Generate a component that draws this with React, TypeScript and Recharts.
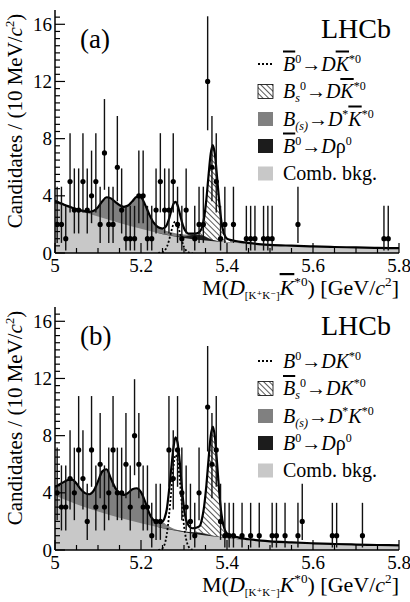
import { ComposedChart, Area, Line, Scatter, ErrorBar, XAxis, YAxis } from "recharts"

const serif = '"Liberation Serif", "Times New Roman", "DejaVu Serif", serif'

// histogram: 80 bins of 10 MeV from 5.0 to 5.8 GeV
const massMin = 5.0
const binWidth = 0.01

const countsA = [
  2, 2, 1, 5, 3, 3, 5, 3, 4, 5,
  2, 7, 2, 2, 6, 3, 1, 1, 1, 4,
  4, 1, 1, 3, 5, 3, 3, 5, 2, 1,
  3, 0, 1, 2, 2, 12, 6, 5, 1, 2,
  0, 2, 0, 0, 1, 1, 1, 0, 1, 1,
  1, 0, 0, 0, 0, 0, 2, 0, 0, 0,
  0, 0, 0, 0, 0, 0, 0, 0, 0, 0,
  0, 0, 0, 0, 0, 0, 1, 1, 0, 0,
]

const countsB = [
  4, 3, 3, 5, 4, 7, 5, 2, 7, 3,
  6, 3, 4, 7, 4, 4, 6, 3, 8, 6,
  3, 3, 1, 2, 2, 0, 7, 5, 7, 4,
  3, 2, 1, 4, 0, 10, 6, 7, 2, 1,
  1, 1, 0, 1, 0, 1, 0, 1, 0, 0,
  1, 1, 0, 1, 0, 0, 1, 2, 0, 0,
  0, 0, 0, 0, 1, 1, 0, 0, 0, 0,
  0, 1, 0, 0, 0, 0, 0, 0, 0, 0,
]

// 68% Poisson (Garwood) intervals, indexed by count
const poissonLow = [0, 0.173, 0.708, 1.367, 2.086, 2.84, 3.62, 4.419, 5.232, 6.057, 6.891, 7.734, 8.585]
const poissonHigh = [1.841, 3.3, 4.638, 5.918, 7.163, 8.382, 9.584, 10.77, 11.95, 13.11, 14.27, 15.42, 16.56]

// fit components (cumulative heights, candidates per bin)
const combMass = [5.0, 5.05, 5.1, 5.15, 5.2, 5.25, 5.3, 5.35, 5.4, 5.45, 5.5, 5.55, 5.6, 5.65, 5.7, 5.75, 5.8]
const combA = [3.5, 3.0, 2.55, 2.1, 1.7, 1.32, 1.05, 0.87, 0.75, 0.64, 0.56, 0.49, 0.43, 0.39, 0.36, 0.33, 0.31]
const combB = [3.82, 3.2, 2.7, 2.26, 1.88, 1.53, 1.25, 1.02, 0.84, 0.69, 0.58, 0.49, 0.42, 0.37, 0.32, 0.28, 0.25]

const rhoMass = [5.24, 5.26, 5.28, 5.3, 5.32, 5.34, 5.36, 5.38, 5.4, 5.42, 5.44]
const rhoA = [1.4, 1.27, 1.17, 1.15, 1.26, 1.24, 0.98, 0.83, 0.76, 0.71, 0.66]
const rhoB = [1.61, 1.48, 1.38, 1.3, 1.24, 1.19, 1.04, 0.92, 0.845, 0.79, 0.72]

const partMass = [
  5.0, 5.01, 5.02, 5.03, 5.04, 5.05, 5.06, 5.07, 5.08, 5.09, 5.1, 5.11, 5.12, 5.13, 5.14,
  5.15, 5.16, 5.17, 5.18, 5.19, 5.2, 5.21, 5.22, 5.23, 5.24, 5.25, 5.26, 5.27, 5.28, 5.29,
  5.3, 5.31, 5.32, 5.33, 5.34, 5.35, 5.36, 5.37, 5.38, 5.39, 5.4, 5.41, 5.42,
]
const partRecoA = [
  3.65, 3.52, 3.4, 3.28, 3.17, 3.07, 2.98, 2.91, 2.88, 2.95, 3.2, 3.62, 3.9, 3.82, 3.58,
  3.35, 3.23, 3.32, 3.62, 3.92, 3.88, 3.35, 2.65, 2.1, 1.8, 1.66, 1.54, 1.45, 1.38, 1.33,
  1.3, 1.3, 1.31, 1.3, 1.26, 1.16, 1.02, 0.9, 0.84, 0.8, 0.77, 0.74, 0.72,
]
const partRecoB = [
  4.4, 4.58, 4.75, 4.9, 4.93, 4.65, 4.25, 3.98, 3.9, 4.15, 4.8, 5.5, 5.65, 5.0, 4.35,
  3.98, 3.85, 4.0, 4.25, 4.32, 4.05, 3.35, 2.52, 2.08, 1.98, 1.96, 1.75, 1.58, 1.46, 1.38,
  1.32, 1.28, 1.25, 1.23, 1.21, 1.16, 1.08, 1.0, 0.94, 0.89, 0.85, 0.82, 0.8,
]

const signalMass = [
  5.327, 5.332, 5.337, 5.342, 5.347, 5.352, 5.357, 5.362, 5.367,
  5.372, 5.377, 5.382, 5.387, 5.392, 5.397, 5.402, 5.407, 5.412,
]
const bsA = [1.35, 1.4, 1.5, 1.8, 2.5, 3.75, 5.4, 6.92, 7.55, 6.88, 5.27, 3.56, 2.2, 1.45, 1.1, 0.97, 0.9, 0.86]
const bsB = [1.35, 1.45, 1.65, 2.2, 3.1, 4.5, 6.3, 7.93, 8.63, 7.88, 6.05, 4.05, 2.55, 1.7, 1.28, 1.1, 1.02, 0.98]

// B0 -> D K*0 shape, drawn from zero
const b0Mass = [5.24, 5.245, 5.25, 5.255, 5.26, 5.265, 5.27, 5.275, 5.28, 5.285, 5.29, 5.295, 5.3, 5.305, 5.31, 5.315, 5.32]
const b0A = [0, 0.02, 0.05, 0.17, 0.42, 0.87, 1.46, 1.99, 2.2, 1.99, 1.46, 0.87, 0.42, 0.17, 0.05, 0.02, 0]
const b0B = [0, 0.03, 0.12, 0.4, 1.1, 2.35, 4.0, 5.7, 6.65, 6.3, 4.95, 3.2, 1.7, 0.75, 0.27, 0.08, 0.02]

const fitMass = [
  5.0, 5.01, 5.02, 5.03, 5.04, 5.05, 5.06, 5.07, 5.08, 5.09, 5.1, 5.11, 5.12, 5.13, 5.14, 5.15, 5.16,
  5.17, 5.18, 5.19, 5.2, 5.21, 5.22, 5.23, 5.24, 5.25,
  5.255, 5.26, 5.265, 5.27, 5.275, 5.28, 5.285, 5.29, 5.295, 5.3, 5.305, 5.31, 5.32, 5.33,
  5.337, 5.342, 5.347, 5.352, 5.357, 5.362, 5.367, 5.372, 5.377, 5.382, 5.387, 5.392, 5.397, 5.402,
  5.41, 5.42, 5.44, 5.46, 5.48, 5.5, 5.55, 5.6, 5.65, 5.7, 5.75, 5.8,
]
const totalA = [
  3.65, 3.52, 3.4, 3.28, 3.17, 3.07, 2.98, 2.91, 2.88, 2.95, 3.2, 3.62, 3.9, 3.82, 3.58, 3.35, 3.23,
  3.32, 3.62, 3.92, 3.88, 3.35, 2.65, 2.1, 1.8, 1.71,
  1.77, 1.96, 2.37, 2.91, 3.4, 3.58, 3.34, 2.79, 2.19, 1.73, 1.48, 1.36, 1.35, 1.37,
  1.5, 1.8, 2.5, 3.75, 5.4, 6.92, 7.55, 6.88, 5.27, 3.56, 2.2, 1.45, 1.1, 0.97,
  0.9, 0.83, 0.74, 0.67, 0.61, 0.57, 0.51, 0.46, 0.42, 0.39, 0.36, 0.34,
]
const totalB = [
  4.4, 4.58, 4.75, 4.9, 4.93, 4.65, 4.25, 3.98, 3.9, 4.15, 4.8, 5.5, 5.65, 5.0, 4.35, 3.98, 3.85,
  4.0, 4.25, 4.32, 4.05, 3.35, 2.52, 2.08, 1.98, 2.0,
  2.25, 2.85, 4.1, 5.6, 7.02, 7.88, 7.52, 6.2, 4.4, 2.9, 2.1, 1.75, 1.52, 1.58,
  1.7, 2.2, 3.1, 4.5, 6.3, 7.93, 8.63, 7.88, 6.05, 4.05, 2.55, 1.7, 1.28, 1.1,
  1.0, 0.92, 0.8, 0.72, 0.65, 0.6, 0.53, 0.47, 0.42, 0.38, 0.35, 0.32,
]

const massTicks = [5, 5.05, 5.1, 5.15, 5.2, 5.25, 5.3, 5.35, 5.4, 5.45, 5.5, 5.55, 5.6, 5.65, 5.7, 5.75, 5.8]
const countTicks = [
  0, 0.5, 1, 1.5, 2, 2.5, 3, 3.5, 4, 4.5, 5, 5.5, 6, 6.5, 7, 7.5, 8, 8.5,
  9, 9.5, 10, 10.5, 11, 11.5, 12, 12.5, 13, 13.5, 14, 14.5, 15, 15.5, 16, 16.5,
]

type Row = { m: number; [key: string]: number }

function mergeCurves(curves: [string, number[], number[]][]): Row[] {
  const rows = new Map<string, Row>()
  for (const [key, mass, values] of curves) {
    mass.forEach((m, i) => {
      const id = m.toFixed(3)
      const row = rows.get(id) ?? { m }
      row[key] = values[i]
      rows.set(id, row)
    })
  }
  return Array.from(rows.values()).sort((p, q) => p.m - q.m)
}

function histogramPoints(counts: number[]) {
  return counts.flatMap((n, i) =>
    n > 0 ? [{ m: massMin + binWidth * (i + 0.5), n, err: [n - poissonLow[n], poissonHigh[n] - n] }] : []
  )
}

const tableA = mergeCurves([
  ["comb", combMass, combA],
  ["rho", rhoMass, rhoA],
  ["part", partMass, partRecoA],
  ["bs", signalMass, bsA],
  ["b0", b0Mass, b0A],
  ["total", fitMass, totalA],
])
const tableB = mergeCurves([
  ["comb", combMass, combB],
  ["rho", rhoMass, rhoB],
  ["part", partMass, partRecoB],
  ["bs", signalMass, bsB],
  ["b0", b0Mass, b0B],
  ["total", fitMass, totalB],
])
const pointsA = histogramPoints(countsA)
const pointsB = histogramPoints(countsB)

const frame = { stroke: "#000", strokeWidth: 1.5 }

function massTick(side: "bottom" | "top") {
  return (props: any) => {
    const { x, y, payload } = props
    const v = payload.value as number
    const major = Math.abs(v * 5 - Math.round(v * 5)) < 1e-6
    const dir = side === "bottom" ? -1 : 1
    return (
      <g>
        <line x1={x} x2={x} y1={y} y2={y + dir * (major ? 10 : 5)} stroke="#000" strokeWidth={1.2} />
        {side === "bottom" && major ? (
          <text x={x} y={y + 19} textAnchor="middle" fontSize={19} fontFamily={serif} fill="#000">
            {String(Number(v.toFixed(1)))}
          </text>
        ) : null}
      </g>
    )
  }
}

function countTick(side: "left" | "right") {
  return (props: any) => {
    const { x, y, payload } = props
    const v = payload.value as number
    const major = v % 4 === 0
    const dir = side === "left" ? 1 : -1
    return (
      <g>
        <line x1={x} x2={x + dir * (major ? 10 : 5)} y1={y} y2={y} stroke="#000" strokeWidth={1.2} />
        {side === "left" && major ? (
          <text x={x - 3} y={y + 6.5} textAnchor="end" fontSize={19} fontFamily={serif} fill="#000">
            {v}
          </text>
        ) : null}
      </g>
    )
  }
}

const dot = (p: any) => <circle cx={p.cx} cy={p.cy} r={2.6} fill="#000" />

function MassPanel({ table, points, top, height }: { table: Row[]; points: any[]; top: number; height: number }) {
  return (
    <div style={{ position: "absolute", left: 0, top }}>
      <ComposedChart width={410} height={height} data={table} margin={{ top: 10, right: 11, bottom: 0, left: 0 }}>
        <Area dataKey="bs" type="monotone" stroke="none" fill="url(#hatch)" fillOpacity={1} connectNulls dot={false} activeDot={false} isAnimationActive={false} />
        <Area dataKey="part" type="monotone" stroke="none" fill="#808080" fillOpacity={1} connectNulls dot={false} activeDot={false} isAnimationActive={false} />
        <Area dataKey="rho" type="monotone" stroke="none" fill="#1c1c1c" fillOpacity={1} connectNulls dot={false} activeDot={false} isAnimationActive={false} />
        <Area dataKey="comb" type="monotone" stroke="none" fill="#c8c8c8" fillOpacity={1} connectNulls dot={false} activeDot={false} isAnimationActive={false} />
        <Line dataKey="b0" type="monotone" stroke="#000" strokeWidth={1.8} strokeDasharray="2 2" connectNulls dot={false} activeDot={false} isAnimationActive={false} />
        <Line dataKey="total" type="monotone" stroke="#000" strokeWidth={2.2} connectNulls dot={false} activeDot={false} isAnimationActive={false} />
        <Scatter data={points} dataKey="n" shape={dot} isAnimationActive={false}>
          <ErrorBar dataKey="err" direction="y" width={0} stroke="#111" strokeWidth={1.4} />
        </Scatter>
        <XAxis dataKey="m" type="number" domain={[5, 5.8]} allowDataOverflow ticks={massTicks} interval={0}
          height={height - 10 - 243} tickSize={0} tickMargin={0} tickLine={false} axisLine={frame} tick={massTick("bottom")} />
        <XAxis xAxisId="top" orientation="top" dataKey="m" type="number" domain={[5, 5.8]} allowDataOverflow ticks={massTicks}
          interval={0} height={0} tickSize={0} tickMargin={0} tickLine={false} axisLine={frame} tick={massTick("top")} />
        <YAxis type="number" domain={[0, 17]} allowDataOverflow ticks={countTicks} interval={0} width={55}
          tickSize={0} tickMargin={0} tickLine={false} axisLine={frame} tick={countTick("left")} />
        <YAxis yAxisId="right" orientation="right" type="number" domain={[0, 17]} allowDataOverflow ticks={countTicks}
          interval={0} width={0} tickSize={0} tickMargin={0} tickLine={false} axisLine={frame} tick={countTick("right")} />
      </ComposedChart>
    </div>
  )
}

type Part = { t: string; it?: boolean; bar?: boolean; up?: boolean; down?: boolean; tiny?: boolean }

function Rich({ parts, x, y, size, anchor = "start", transform }: {
  parts: Part[]; x: number; y: number; size: number; anchor?: "start" | "middle" | "end"; transform?: string
}) {
  let shift = 0
  return (
    <text x={x} y={y} fontSize={size} textAnchor={anchor} transform={transform} fontFamily={serif} fill="#000">
      {parts.map((p, i) => {
        const target = p.up ? -size * 0.4 : p.down ? size * 0.2 : 0
        const dy = target - shift
        shift = target
        const fs = p.tiny ? size * 0.5 : p.up || p.down ? size * 0.6 : undefined
        return (
          <tspan key={i} dy={dy === 0 ? undefined : dy} fontSize={fs} fontStyle={p.it ? "italic" : undefined}
            style={p.bar ? { textDecoration: "overline" } : undefined}>
            {p.t}
          </tspan>
        )
      })}
    </text>
  )
}

const legendA: Part[][] = [
  [{ t: "B", it: true, bar: true }, { t: "0", up: true }, { t: "→" }, { t: "D", it: true }, { t: "K", it: true, bar: true }, { t: "*0", up: true }],
  [{ t: "B", it: true }, { t: "s", it: true, down: true }, { t: "0", up: true }, { t: "→" }, { t: "D", it: true }, { t: "K", it: true, bar: true }, { t: "*0", up: true }],
  [{ t: "B", it: true }, { t: "(s)", it: true, down: true }, { t: "→" }, { t: "D", it: true }, { t: "*", up: true }, { t: "K", it: true, bar: true }, { t: "*0", up: true }],
  [{ t: "B", it: true, bar: true }, { t: "0", up: true }, { t: "→" }, { t: "D", it: true }, { t: "ρ" }, { t: "0", up: true }],
  [{ t: "Comb. bkg." }],
]
const legendB: Part[][] = [
  [{ t: "B", it: true }, { t: "0", up: true }, { t: "→" }, { t: "D", it: true }, { t: "K", it: true }, { t: "*0", up: true }],
  [{ t: "B", it: true, bar: true }, { t: "s", it: true, down: true }, { t: "0", up: true }, { t: "→" }, { t: "D", it: true }, { t: "K", it: true }, { t: "*0", up: true }],
  [{ t: "B", it: true }, { t: "(s)", it: true, down: true }, { t: "→" }, { t: "D", it: true }, { t: "*", up: true }, { t: "K", it: true }, { t: "*0", up: true }],
  [{ t: "B", it: true }, { t: "0", up: true }, { t: "→" }, { t: "D", it: true }, { t: "ρ" }, { t: "0", up: true }],
  [{ t: "Comb. bkg." }],
]
const swatches = ["dotted", "url(#hatch)", "#808080", "#1c1c1c", "#c8c8c8"]

const massTitle = (bar: boolean): Part[] => [
  { t: "M(" }, { t: "D", it: true }, { t: "[K⁺K⁻]", down: true, tiny: true }, { t: "K", it: true, bar }, { t: "*0", up: true },
  { t: ") [GeV/" }, { t: "c", it: true }, { t: "2", up: true }, { t: "]" },
]
const countTitle: Part[] = [{ t: "Candidates / (10 MeV/" }, { t: "c", it: true }, { t: "2", up: true }, { t: ")" }]

function Annotations({ dy, tag, legend, bar }: { dy: number; tag: string; legend: Part[][]; bar: boolean }) {
  const rows = [64, 91.5, 119, 146, 173.5]
  return (
    <g>
      <text x={80} y={48 + dy} fontSize={27} fontFamily={serif}>{tag}</text>
      <text x={391} y={38 + dy} fontSize={28} fontFamily={serif} textAnchor="end">LHCb</text>
      {legend.map((parts, i) => {
        const cy = rows[i] + dy
        const sw = swatches[i]
        return (
          <g key={i}>
            {sw === "dotted" ? (
              <line x1={258} x2={273} y1={cy} y2={cy} stroke="#000" strokeWidth={1.8} strokeDasharray="2 2" />
            ) : (
              <rect x={258} y={cy - 7} width={15} height={14} fill={sw} stroke={sw === "url(#hatch)" ? "#000" : "none"} strokeWidth={0.8} />
            )}
            <Rich parts={parts} x={283} y={cy + 6.5} size={20} />
          </g>
        )
      })}
      <Rich parts={massTitle(bar)} x={399} y={295 + dy} size={22} anchor="end" />
      <Rich parts={countTitle} x={22} y={121 + dy} size={21} anchor="middle" transform={`rotate(-90 22 ${121 + dy})`} />
    </g>
  )
}

export default function App() {
  return (
    <div style={{ position: "absolute", left: 0, top: 0, width: 410, height: 602, background: "#fff", overflow: "hidden" }}>
      <MassPanel table={tableA} points={pointsA} top={0} height={300} />
      <MassPanel table={tableB} points={pointsB} top={297} height={305} />
      <svg width={410} height={602} style={{ position: "absolute", left: 0, top: 0, pointerEvents: "none" }}>
        <defs>
          <pattern id="hatch" patternUnits="userSpaceOnUse" width={4} height={4} patternTransform="rotate(-45)">
            <rect width={4} height={4} fill="#fff" />
            <line x1={0} y1={0} x2={0} y2={4} stroke="#000" strokeWidth={1.3} />
          </pattern>
        </defs>
        <Annotations dy={0} tag="(a)" legend={legendA} bar={true} />
        <Annotations dy={297} tag="(b)" legend={legendB} bar={false} />
      </svg>
    </div>
  )
}
